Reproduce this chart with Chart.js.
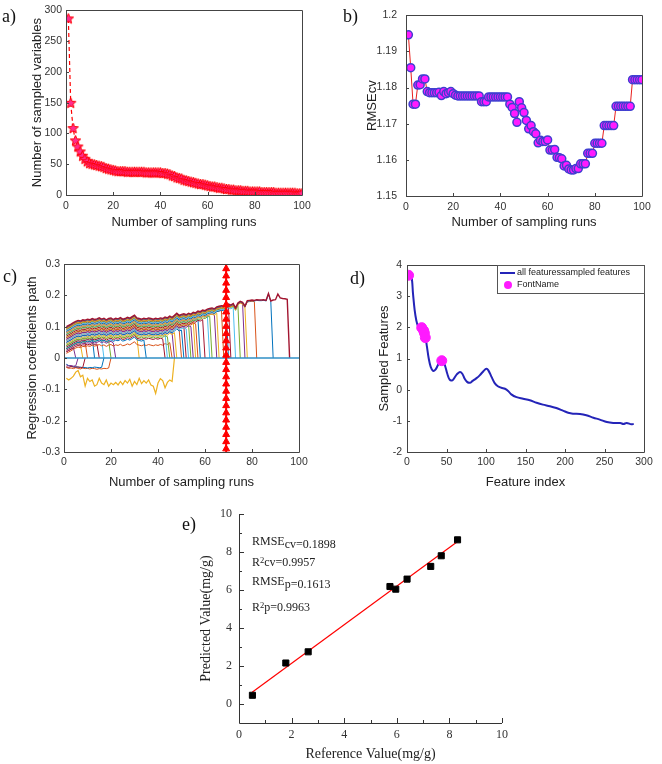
<!DOCTYPE html>
<html>
<head>
<meta charset="utf-8">
<script src="https://cdn.jsdelivr.net/npm/chart.js@4.4.1/dist/chart.umd.min.js"></script>
<style>
body { margin: 0; background: #fff; width: 662px; height: 764px; position: relative; overflow: hidden; }
canvas { position: absolute; }
.lbl { position: absolute; font: 18px "Liberation Serif", serif; line-height: 18px; color: #111; }
.ann { position: absolute; left: 252px; font: 12px "Liberation Serif", serif; line-height: 12px; color: #222; white-space: nowrap; }
.ann .lo { position: relative; top: 3px; }
.ann .up { position: relative; top: -3px; font-size: 8.5px; }
</style>
</head>
<body>
<canvas id="ca"></canvas>
<canvas id="cb"></canvas>
<canvas id="cc"></canvas>
<canvas id="cd"></canvas>
<canvas id="ce"></canvas>

<div class="lbl" style="left:2px;top:7px">a)</div>
<div class="lbl" style="left:343px;top:7px">b)</div>
<div class="lbl" style="left:3px;top:267px">c)</div>
<div class="lbl" style="left:350px;top:269px">d)</div>
<div class="lbl" style="left:182px;top:515px">e)</div>

<div class="ann" style="top:535px">RMSE<span class="lo">cv=0.1898</span></div>
<div class="ann" style="top:556px">R<span class="up">2</span>cv=0.9957</div>
<div class="ann" style="top:575px">RMSE<span class="lo">p=0.1613</span></div>
<div class="ann" style="top:601px">R<span class="up">2</span>p=0.9963</div>

<script>
// a) number of sampled variables per sampling run (runs 1..100)
var sampledVars = [286,149,108,88,78,70,63,58,54,51,
    50,49,48,47,46,45,43,42,41,40,
    39,38,38,38,38,37,37,37,37,37,
    37,37,37,36,36,36,36,36,36,36,
    35,35,34,33,31,30,28,27,26,24,
    23,22,21,20,19,18,17,17,16,15,
    14,13,13,12,11,11,10,9,9,8,
    8,7,7,7,6,6,6,5,5,5,
    5,5,4,4,4,4,4,4,3,3,
    3,3,3,3,3,3,3,2,2,2];

// b) RMSEcv per sampling run
var rmsecv = [1.1946,1.1855,1.1754,1.1754,1.1807,1.1808,1.1824,1.1824,1.1789,1.1786,
    1.1786,1.1786,1.1786,1.1787,1.1778,1.1789,1.1783,1.1786,1.1789,1.1783,
    1.1779,1.1777,1.1777,1.1777,1.1777,1.1777,1.1777,1.1777,1.1777,1.1777,
    1.1777,1.1761,1.1761,1.1761,1.1774,1.1774,1.1774,1.1774,1.1774,1.1774,
    1.1774,1.1774,1.1774,1.1754,1.1745,1.1728,1.1704,1.1761,1.1744,1.1731,
    1.1709,1.1686,1.1695,1.1678,1.1672,1.1647,1.1654,1.1651,1.1651,1.1655,
    1.1627,1.1627,1.1629,1.1607,1.1606,1.1603,1.1583,1.1585,1.1575,1.1572,
    1.1572,1.1576,1.1576,1.1589,1.1589,1.1589,1.1618,1.1618,1.1618,1.1646,
    1.1646,1.1646,1.1646,1.1695,1.1695,1.1695,1.1695,1.1695,1.1748,1.1748,
    1.1748,1.1748,1.1748,1.1748,1.1748,1.1822,1.1822,1.1822,1.1822,1.1822];

// c) regression coefficient paths: upper envelope (runs 1..95), and each path's
// distance below it and the run where it drops to zero
var coefTop = [0.100,0.104,0.108,0.113,0.117,0.120,0.118,0.122,0.121,0.124,
    0.122,0.126,0.123,0.125,0.128,0.124,0.127,0.122,0.126,0.128,
    0.123,0.127,0.125,0.129,0.124,0.126,0.130,0.127,0.132,0.137,
    0.128,0.126,0.124,0.127,0.125,0.128,0.126,0.124,0.127,0.125,
    0.128,0.126,0.131,0.128,0.134,0.130,0.136,0.143,0.136,0.139,
    0.141,0.138,0.143,0.140,0.146,0.144,0.150,0.148,0.153,0.151,
    0.156,0.158,0.160,0.157,0.163,0.165,0.167,0.166,0.170,0.172,
    0.169,0.174,0.160,0.176,0.181,0.178,0.166,0.183,0.184,0.185,
    0.184,0.186,0.185,0.185,0.186,0.184,0.206,0.182,0.185,0.186,
    0.204,0.192,0.190,0.189,0.187];
var coefOffsets = [0,0.002,0.004,0.006,0.005,0.008,0.012,0.01,0.015,0.015,
    0.02,0.02,0.025,0.02,0.03,0.025,0.035,0.03,0.04,0.035,
    0.045,0.04,0.05,0.045,0.055,0.05,0.06,0.055,0.065,0.07,
    0.085,0.06,0.075,0.07,0.065,0.08,0.06,0.07,0.075,0.08];
var coefEnds = [96,89,82,78,77,75,73,71,70,68,
    66,65,63,62,60,58,57,56,55,54,
    53,52,51,50,48,47,45,44,43,35,
    46,32,22,20,17,15,13,10,8,5];
var coefNeg = [
    [-0.022,-0.025,-0.024,-0.026,-0.025,0],
    [-0.028,-0.030,-0.027,-0.029,-0.030,-0.028,-0.031,-0.030,0],
    [-0.020,-0.024,-0.026,-0.028,-0.027,-0.030,-0.029,-0.031,-0.030,-0.032,-0.030,-0.031,-0.029,-0.030,-0.031,-0.030,0],
    [-0.030,-0.033,-0.032,-0.034,-0.031,-0.033,-0.035,-0.032,-0.034,-0.033,-0.035,-0.033,-0.034,-0.036,-0.034,-0.035,-0.033,-0.034,-0.032,0]
];
var coefYellow = [-0.065,-0.07,-0.065,-0.058,-0.045,-0.04,-0.06,-0.055,-0.09,-0.065,
    -0.075,-0.07,-0.09,-0.085,-0.065,-0.08,-0.085,-0.07,-0.09,-0.08,
    -0.085,-0.078,-0.086,-0.075,-0.085,-0.072,-0.08,-0.068,-0.09,-0.075,
    -0.085,-0.065,-0.082,-0.072,-0.08,-0.07,-0.086,-0.09,-0.113,-0.08,
    -0.066,-0.072,-0.095,-0.078,-0.07,-0.075,0];
var bestRun = 69;
var bestMarks = [0.285,0.262,0.239,0.216,0.193,0.17,0.147,0.124,0.101,0.078,0.055,0.032,0.009,
    -0.014,-0.037,-0.06,-0.083,-0.106,-0.129,-0.152,-0.175,-0.198,-0.221,-0.244,-0.267,-0.29];

// d) spectrum of all features and the sampled ones
var featIdx = [2,5.5,7.6,9.7,11.8,14,17,20,22.4,23.7,25.3,27.5,30,33,36,39,42,45,48,51,54,57.5,60,63,67,70,73,76,79.5,83,88,92,97,100.5,103,107,111,115,119.5,124,128,132,138.6,147,155.5,164,172,181,189,198,204,210,219,227,236,244,253,261,270,274,278,284,287];
var featVal = [3.67,3.64,3.08,2.55,2.22,2.03,1.95,1.93,1.8,1.64,1.37,1.0,0.73,0.6,0.64,0.78,0.91,0.94,0.78,0.51,0.32,0.3,0.38,0.49,0.57,0.51,0.35,0.25,0.22,0.28,0.37,0.46,0.6,0.67,0.62,0.41,0.21,0.11,0.06,0.03,-0.04,-0.15,-0.24,-0.29,-0.34,-0.42,-0.48,-0.53,-0.59,-0.68,-0.74,-0.77,-0.78,-0.82,-0.9,-0.96,-1.04,-1.07,-1.07,-1.1,-1.07,-1.11,-1.1];
var selIdx = [2,18.6,21,22,23.2,44];
var selVal = [3.67,1.99,1.9,1.82,1.67,0.93];
var legendD = ['all featuressampled features', 'FontName'];

// e) reference vs predicted
var refVal = [0.51,1.78,2.63,5.74,5.96,6.39,7.29,7.69,8.31];
var predVal = [0.46,2.16,2.75,6.19,6.05,6.58,7.25,7.81,8.65];
var fitX = [0.5, 8.3];
var fitY = [0.62, 8.55];

// tick labels
var ticksRuns = [0,20,40,60,80,100];
var ticksA = [0,50,100,150,200,250,300];
var ticksB = [1.15,1.16,1.17,1.18,1.19,1.2];
var ticksC = [-0.3,-0.2,-0.1,0,0.1,0.2,0.3];
var ticksDx = [0,50,100,150,200,250,300];
var ticksDy = [-2,-1,0,1,2,3,4];
var ticksE = [0,2,4,6,8,10];
var minorE = [1,3,5,7,9];

var matlab = ['#0072BD','#D95319','#EDB120','#7E2F8E','#77AC30','#4DBEEE','#A2142F'];
var sans = '"Liberation Sans", Arial, sans-serif';
var serif = '"Liberation Serif", "Times New Roman", serif';

var framePlugin = {
    id: 'frame',
    afterDatasetsDraw: function(chart, args, o) {
        var ctx = chart.ctx, a = chart.chartArea, sx = chart.scales.x, sy = chart.scales.y;
        ctx.save();
        ctx.strokeStyle = o.color;
        ctx.lineWidth = 1;
        ctx.beginPath();
        if (o.box) {
            ctx.rect(Math.round(a.left) + 0.5, Math.round(a.top) + 0.5, Math.round(a.right - a.left), Math.round(a.bottom - a.top));
        } else {
            ctx.moveTo(Math.round(a.left) + 0.5, a.top);
            ctx.lineTo(Math.round(a.left) + 0.5, Math.round(a.bottom) + 0.5);
            ctx.lineTo(a.right, Math.round(a.bottom) + 0.5);
        }
        function tx(v, len) {
            var p = Math.round(sx.getPixelForValue(v)) + 0.5;
            ctx.moveTo(p, a.bottom);
            ctx.lineTo(p, a.bottom - len);
        }
        function ty(v, len) {
            var p = Math.round(sy.getPixelForValue(v)) + 0.5;
            ctx.moveTo(a.left, p);
            ctx.lineTo(a.left + len, p);
        }
        sx.ticks.forEach(function(t) { tx(t.value, o.len); });
        sy.ticks.forEach(function(t) { ty(t.value, o.len); });
        (o.minorX || []).forEach(function(v) { tx(v, o.minorLen); });
        (o.minorY || []).forEach(function(v) { ty(v, o.minorLen); });
        ctx.stroke();
        ctx.restore();
    }
};

function makePanel(id, box, area, spec)
{
    var cv = document.getElementById(id);
    cv.width = box.w;
    cv.height = box.h;
    cv.style.left = box.x + 'px';
    cv.style.top = box.y + 'px';

    function axis(s, isX) {
        return {
            type: 'linear',
            min: s.min,
            max: s.max,
            afterBuildTicks: function(sc) { sc.ticks = s.ticks.map(function(v) { return {value: v}; }); },
            afterFit: function(sc) {
                if (isX) sc.height = box.y + box.h - area.b;
                else sc.width = area.l - box.x;
            },
            grid: {display: false, drawTicks: false},
            border: {display: false},
            ticks: {
                autoSkip: false, maxRotation: 0, padding: s.pad, color: '#333',
                font: spec.tickFont,
                callback: function(v) { return String(v); }
            },
            title: {
                display: true, text: s.title, color: '#222', font: spec.titleFont,
                padding: isX ? {top: 0, bottom: s.tpad} : {top: s.tpad, bottom: 0}
            }
        };
    }

    return new Chart(cv, {
        type: 'line',
        data: {datasets: spec.datasets},
        options: {
            responsive: false,
            animation: false,
            devicePixelRatio: 1,
            layout: {padding: {left: 0, top: area.t - box.y, right: box.x + box.w - area.r, bottom: 0}},
            plugins: {legend: {display: false}, tooltip: {enabled: false}, frame: spec.frame},
            scales: {x: axis(spec.x, true), y: axis(spec.y, false)}
        },
        plugins: [framePlugin].concat(spec.plugins || [])
    });
}

function starImage(r, fill, stroke)
{
    var c = document.createElement('canvas');
    var s = Math.ceil(r * 2 + 2);
    c.width = s;
    c.height = s;
    var g = c.getContext('2d');
    g.beginPath();
    for (var i = 0; i < 10; i++) {
        var rr = i % 2 ? r * 0.45 : r;
        var ang = -Math.PI / 2 + i * Math.PI / 5;
        g.lineTo(s / 2 + rr * Math.cos(ang), s / 2 + rr * Math.sin(ang));
    }
    g.closePath();
    g.fillStyle = fill;
    g.fill();
    g.strokeStyle = stroke;
    g.lineWidth = 1;
    g.stroke();
    return c;
}

var boxFrame = {color: '#444', box: true, len: 3, minorLen: 0};
var fontsAD = {tickFont: {family: sans, size: 10.5}, titleFont: {family: sans, size: 13}};

// ---------- a) ----------
makePanel('ca', {x: 0, y: 0, w: 330, h: 235}, {l: 66, t: 6, r: 302, b: 195}, {
    tickFont: fontsAD.tickFont, titleFont: fontsAD.titleFont, frame: boxFrame,
    x: {min: 0, max: 100, ticks: ticksRuns, pad: 5, title: 'Number of sampling runs', tpad: 5},
    y: {min: 0, max: 300, ticks: ticksA, pad: 4, title: 'Number of sampled variables', tpad: 30},
    datasets: [{
        data: sampledVars.map(function(v, i) { return {x: i + 1, y: v}; }),
        borderColor: '#ff0000', borderWidth: 1.2, borderDash: [4, 3],
        pointStyle: starImage(5.5, '#ff2d8f', '#ff0000'), pointRadius: 5,
        fill: false, tension: 0
    }]
});

// ---------- b) ----------
makePanel('cb', {x: 330, y: 0, w: 332, h: 235}, {l: 406, t: 6, r: 642, b: 196}, {
    tickFont: fontsAD.tickFont, titleFont: fontsAD.titleFont, frame: boxFrame,
    x: {min: 0, max: 100, ticks: ticksRuns, pad: 5, title: 'Number of sampling runs', tpad: 5},
    y: {min: 1.15, max: 1.2, ticks: ticksB, pad: 9, title: 'RMSEcv', tpad: 35},
    datasets: [{
        data: rmsecv.map(function(v, i) { return {x: i + 1, y: v}; }),
        borderColor: '#e8201e', borderWidth: 1,
        pointRadius: 4, pointBackgroundColor: '#ff1aff', pointBorderColor: '#3f3fd0', pointBorderWidth: 1.5,
        fill: false, tension: 0
    }]
});

// ---------- c) ----------
var cSets = [];
cSets.push({data: [{x: bestRun, y: -0.3}, {x: bestRun, y: 0.3}], borderColor: '#ff0000', borderWidth: 2, pointRadius: 0});
cSets.push({data: bestMarks.map(function(v) { return {x: bestRun, y: v}; }), showLine: false,
    pointStyle: 'triangle', pointRadius: 4, pointBackgroundColor: '#ff0000', pointBorderColor: '#ff0000'});
cSets.push({data: [{x: 0, y: 0}, {x: 100, y: 0}], borderColor: '#2f8fc6', borderWidth: 1.5, pointRadius: 0});
cSets.push({data: coefYellow.map(function(v, i) { return {x: i + 1, y: v}; }), borderColor: '#EDB120', borderWidth: 1.2, pointRadius: 0});
coefNeg.forEach(function(arr, k) {
    cSets.push({data: arr.map(function(v, i) { return {x: i + 1, y: v}; }),
        borderColor: matlab[[3, 6, 0, 1][k]], borderWidth: 1, pointRadius: 0});
});
coefOffsets.forEach(function(o, k) {
    var e = coefEnds[k];
    var pts = [];
    for (var r = 1; r < e; r++) pts.push({x: r, y: coefTop[r - 1] - o});
    pts.push({x: e, y: 0});
    cSets.push({data: pts, borderColor: matlab[(k + 6) % 7], borderWidth: k === 0 ? 1.4 : 1, pointRadius: 0});
});
makePanel('cc', {x: 0, y: 250, w: 330, h: 250}, {l: 64, t: 264, r: 299, b: 452}, {
    tickFont: fontsAD.tickFont, titleFont: fontsAD.titleFont, frame: boxFrame,
    x: {min: 0, max: 100, ticks: ticksRuns, pad: 4, title: 'Number of sampling runs', tpad: 10},
    y: {min: -0.3, max: 0.3, ticks: ticksC, pad: 4, title: 'Regression coefficients path', tpad: 25},
    datasets: cSets
});

// ---------- d) ----------
var legendPlugin = {
    id: 'legendD',
    afterDraw: function(chart) {
        var ctx = chart.ctx, a = chart.chartArea;
        var x0 = Math.round(a.right) - 147, y0 = Math.round(a.top);
        ctx.save();
        ctx.strokeStyle = '#555';
        ctx.lineWidth = 1;
        ctx.strokeRect(x0 + 0.5, y0 + 0.5, 147, 28);
        ctx.strokeStyle = '#2424b8';
        ctx.lineWidth = 2;
        ctx.beginPath();
        ctx.moveTo(x0 + 3, y0 + 8);
        ctx.lineTo(x0 + 18, y0 + 8);
        ctx.stroke();
        ctx.fillStyle = '#ff1aff';
        ctx.beginPath();
        ctx.arc(x0 + 11, y0 + 20, 4, 0, 2 * Math.PI);
        ctx.fill();
        ctx.fillStyle = '#222';
        ctx.font = '9px ' + sans;
        ctx.textBaseline = 'middle';
        ctx.fillText(legendD[0], x0 + 20, y0 + 8);
        ctx.fillText(legendD[1], x0 + 20, y0 + 20);
        ctx.restore();
    }
};
makePanel('cd', {x: 330, y: 250, w: 332, h: 250}, {l: 407, t: 265, r: 644, b: 452}, {
    tickFont: fontsAD.tickFont, titleFont: fontsAD.titleFont, frame: boxFrame,
    x: {min: 0, max: 300, ticks: ticksDx, pad: 4, title: 'Feature index', tpad: 10},
    y: {min: -2, max: 4, ticks: ticksDy, pad: 5, title: 'Sampled Features', tpad: 47},
    plugins: [legendPlugin],
    datasets: [
        {data: selIdx.map(function(v, i) { return {x: v, y: selVal[i]}; }), showLine: false,
            pointRadius: 5, pointBackgroundColor: '#ff1aff', pointBorderColor: '#ff1aff'},
        {data: featIdx.map(function(v, i) { return {x: v, y: featVal[i]}; }),
            borderColor: '#2424b8', borderWidth: 2, pointRadius: 0, tension: 0.35}
    ]
});

// ---------- e) ----------
makePanel('ce', {x: 150, y: 500, w: 380, h: 264}, {l: 239, t: 514, r: 502, b: 723}, {
    tickFont: {family: serif, size: 12}, titleFont: {family: serif, size: 14},
    frame: {color: '#333', box: false, len: 5, minorLen: 3, minorX: minorE, minorY: minorE},
    x: {min: 0, max: 10, ticks: ticksE, pad: 5, title: 'Reference Value(mg/g)', tpad: 1},
    y: {min: -1, max: 10, ticks: ticksE, pad: 7, title: 'Predicted Value(mg/g)', tpad: 48},
    datasets: [
        {data: refVal.map(function(v, i) { return {x: v, y: predVal[i]}; }), showLine: false,
            pointStyle: 'rect', pointRadius: 4.3, pointBackgroundColor: '#000', pointBorderColor: '#000'},
        {data: fitX.map(function(v, i) { return {x: v, y: fitY[i]}; }),
            borderColor: '#ff0000', borderWidth: 1.2, pointRadius: 0}
    ]
});
</script>
</body>
</html>
